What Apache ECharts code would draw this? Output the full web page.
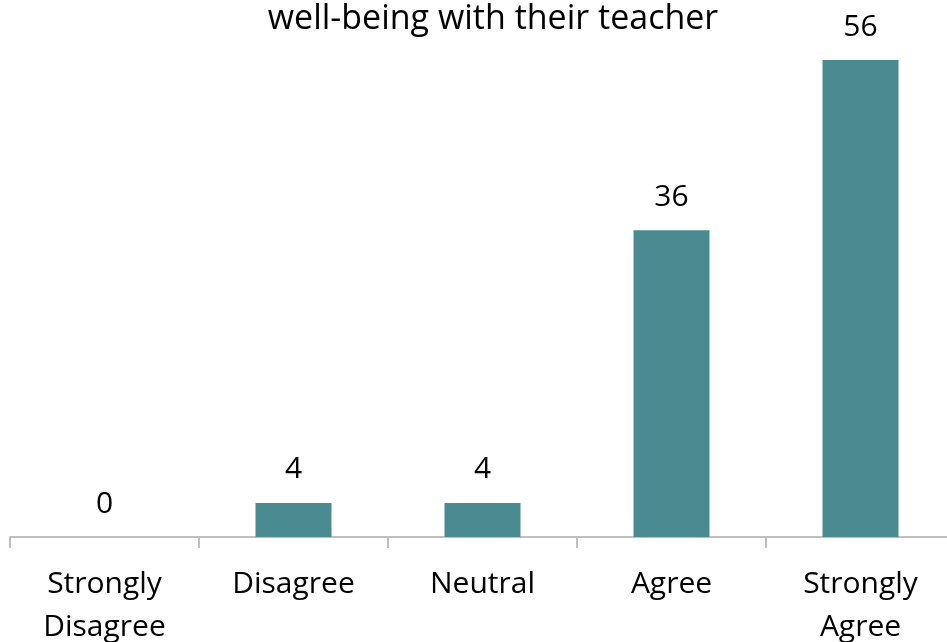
<!DOCTYPE html>
<html>
<head>
<meta charset="utf-8">
<script src="https://cdn.jsdelivr.net/npm/echarts@6/dist/echarts.min.js"></script>
<style>
html,body{margin:0;padding:0;background:#fff;}
#chart{width:947px;height:642px;}
</style>
</head>
<body>
<div id="chart"></div>
<script>
const titleText = "well-being with their teacher";
const categories = ["Strongly\nDisagree", "Disagree", "Neutral", "Agree", "Strongly\nAgree"];
const values = [0, 4, 4, 36, 56];

const chart = echarts.init(document.getElementById('chart'), null, {renderer: 'canvas'});
chart.setOption({
  animation: false,
  backgroundColor: '#ffffff',
  title: {
    text: titleText,
    left: 488,
    textAlign: 'center',
    top: -3,
    textStyle: {fontFamily: 'Open Sans', fontSize: 34, fontWeight: 'normal', color: '#000'}
  },
  grid: {left: 10, top: 60, width: 945, bottom: 105, containLabel: false, outerBoundsMode: 'none'},
  xAxis: {
    type: 'category',
    data: categories,
    axisLine: {lineStyle: {color: '#bfbfbf', width: 2}},
    axisTick: {show: true, length: 11, lineStyle: {color: '#bfbfbf', width: 2}},
    axisLabel: {fontFamily: 'Open Sans', fontSize: 30, color: '#000', margin: 26, lineHeight: 43, interval: 0}
  },
  yAxis: {
    type: 'value',
    min: 0,
    max: 56,
    show: false,
    splitLine: {show: false}
  },
  series: [{
    type: 'bar',
    data: values,
    barWidth: 76,
    itemStyle: {color: '#4a8a91'},
    label: {show: true, position: 'top', distance: 18, fontFamily: 'Open Sans', fontSize: 30, color: '#000'}
  }]
});
</script>
</body>
</html>
